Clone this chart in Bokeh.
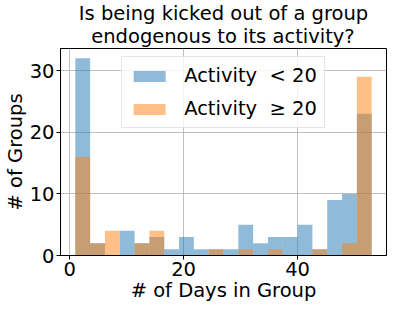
from bokeh.plotting import figure
from bokeh.models import Title, FixedTicker, Range1d, ColumnDataSource, Legend, LegendItem
from bokeh.embed import file_html
from bokeh.resources import INLINE

# histogram: 20 bins from 1 to 53
bin_start = 1.0
bin_width = 2.6
counts_low = [32, 2, 0, 4, 2, 3, 1, 3, 1, 1, 1, 5, 2, 3, 3, 5, 1, 9, 10, 23]   # Activity < 20
counts_high = [16, 2, 4, 0, 2, 4, 0, 0, 0, 1, 0, 1, 0, 1, 0, 0, 1, 0, 2, 29]  # Activity >= 20
x_ticks = [0, 20, 40]
y_ticks = [0, 10, 20, 30]
label_low = "Activity\u00a0 < 20"
label_high = "Activity\u00a0 \u2265 20"
title_line1 = "Is being kicked out of a group"
title_line2 = "endogenous to its activity?"

lefts = [bin_start + i * bin_width for i in range(len(counts_low))]
rights = [l + bin_width for l in lefts]

FONT = "DejaVu Sans"
FS = "19.5px"

p = figure(frame_width=326, frame_height=207, output_backend="svg", toolbar_location=None,
           title=None, x_range=Range1d(-1.6, 55.6), y_range=Range1d(0, 33.6),
           min_border_right=2, min_border_top=0, min_border_left=0, min_border_bottom=0)

src_low = ColumnDataSource(dict(left=lefts, right=rights, top=counts_low, bottom=[0] * len(lefts)))
src_high = ColumnDataSource(dict(left=lefts, right=rights, top=counts_high, bottom=[0] * len(lefts)))

r1 = p.quad(left="left", right="right", top="top", bottom="bottom", source=src_low,
            fill_color="#1f77b4", fill_alpha=0.5, line_color=None)
r2 = p.quad(left="left", right="right", top="top", bottom="bottom", source=src_high,
            fill_color="#ff7f0e", fill_alpha=0.5, line_color=None)

legend = Legend(items=[LegendItem(label=label_low, renderers=[r1]),
                       LegendItem(label=label_high, renderers=[r2])],
                location="top_center", orientation="vertical",
                label_text_font=FONT, label_text_font_size=FS, label_text_color="#000000",
                glyph_width=40, glyph_height=14, label_standoff=15,
                padding=7, spacing=10, margin=8,
                border_line_color="#cccccc", border_line_width=1,
                background_fill_color="white", background_fill_alpha=0.8)
p.add_layout(legend, "center")

# second line padded so that both lines are centred
t = Title(text=title_line1 + "\n\u00a0\u00a0" + title_line2, align="center", text_font=FONT,
          text_line_height=1.02, text_font_size=FS, text_font_style="normal",
          text_color="#000000", standoff=0)
p.add_layout(t, "above")

for ax in (p.xaxis[0], p.yaxis[0]):
    ax.axis_label_text_font = FONT
    ax.axis_label_text_font_size = FS
    ax.axis_label_text_font_style = "normal"
    ax.axis_label_text_color = "#000000"
    ax.major_label_text_font = FONT
    ax.major_label_text_font_size = FS
    ax.major_label_text_color = "#000000"
    ax.axis_line_color = "#000000"
    ax.major_tick_line_color = "#000000"
    ax.major_tick_out = 4
    ax.major_tick_in = 0
    ax.minor_tick_line_color = None
    ax.major_label_standoff = 2
    ax.axis_label_standoff = 0

p.xaxis[0].ticker = FixedTicker(ticks=x_ticks)
p.yaxis[0].ticker = FixedTicker(ticks=y_ticks)
p.xaxis[0].axis_label = "# of Days in Group"
p.yaxis[0].axis_label = "# of Groups"

p.xgrid[0].ticker = FixedTicker(ticks=x_ticks)
p.ygrid[0].ticker = FixedTicker(ticks=y_ticks)
for g in (p.xgrid[0], p.ygrid[0]):
    g.grid_line_color = "#b0b0b0"
    g.grid_line_width = 0.8
    g.grid_line_alpha = 1.0

p.outline_line_color = "#000000"
p.outline_line_alpha = 1.0
p.outline_line_width = 1
p.background_fill_color = "white"
p.border_fill_color = "white"

open("out.html", "w").write(file_html(p, INLINE))
